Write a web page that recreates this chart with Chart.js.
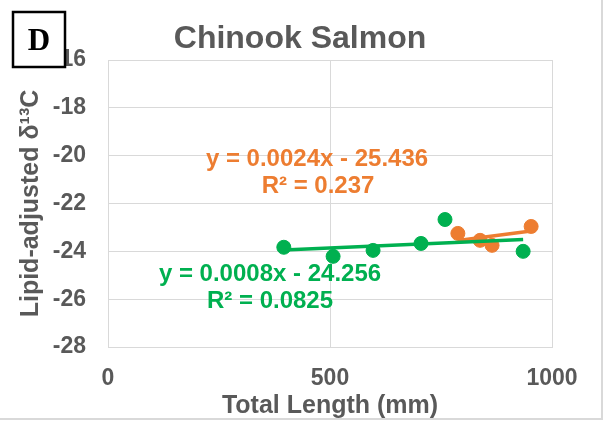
<!DOCTYPE html>
<html>
<head>
<meta charset="utf-8">
<script src="https://cdn.jsdelivr.net/npm/chart.js@4/dist/chart.umd.min.js"></script>
<style>
  html, body { margin: 0; padding: 0; background: #fff; }
  #wrap { width: 605px; height: 423px; position: relative; }
</style>
</head>
<body>
<div id="wrap"><canvas id="salmonChart" width="605" height="423"></canvas></div>
<script>
// values
const lengthGreen = [396, 507, 597, 705, 759, 935];
const d13cGreen = [-23.83, -24.21, -23.96, -23.67, -22.67, -24.0];
const lengthOrange = [788, 838, 865, 953];
const d13cOrange = [-23.25, -23.54, -23.75, -22.96];

// trendline ends (as drawn)
const trendGreenX = [396, 935];
const trendGreenY = [-23.94, -23.51];
const trendOrangeX = [788, 953];
const trendOrangeY = [-23.55, -23.15];

const xTicks = [0, 500, 1000];
const yTicks = [-28, -26, -24, -22, -20, -18, -16];

const eqGreen = ['y = 0.0008x - 24.256', 'R\u00B2 = 0.0825'];
const eqOrange = ['y = 0.0024x - 25.436', 'R\u00B2 = 0.237'];

const green = '#00B050';
const orange = '#ED7D31';
const grey = '#595959';
const gridGrey = '#d9d9d9';
const font = '"Liberation Sans", Arial, sans-serif';

function pairs(xs, ys) {
    return xs.map((x, i) => ({ x: x, y: ys[i] }));
}

// title, panel letter, equations and the outer frame
const extras = {
    id: 'extras',
    afterDraw(chart) {
        const ctx = chart.ctx;
        ctx.save();
        ctx.fillStyle = grey;
        ctx.font = `bold 32px ${font}`;
        ctx.textAlign = 'center';
        ctx.textBaseline = 'middle';
        ctx.fillText('Chinook Salmon', 300, 39);

        ctx.font = `bold 24px ${font}`;
        ctx.fillStyle = orange;
        ctx.fillText(eqOrange[0], 317, 159);
        ctx.fillText(eqOrange[1], 318, 186);
        ctx.fillStyle = green;
        ctx.fillText(eqGreen[0], 270, 274);
        ctx.fillText(eqGreen[1], 270, 301);

        // D box
        ctx.fillStyle = '#fff';
        ctx.fillRect(13, 12, 52, 55);
        ctx.strokeStyle = '#000';
        ctx.lineWidth = 2.5;
        ctx.strokeRect(13, 12, 52, 55);
        ctx.fillStyle = '#000';
        ctx.font = 'bold 31px "Liberation Serif", "Times New Roman", serif';
        ctx.fillText('D', 39, 42);

        // frame
        ctx.strokeStyle = gridGrey;
        ctx.lineWidth = 2;
        ctx.beginPath();
        ctx.moveTo(0, 419);
        ctx.lineTo(602, 419);
        ctx.lineTo(602, 0);
        ctx.stroke();
        ctx.restore();
    }
};

var ctx = document.getElementById('salmonChart').getContext('2d');
var chart = new Chart(ctx, {
    type: 'scatter',
    data: {
        datasets: [{
            label: 'Green trend',
            data: pairs(trendGreenX, trendGreenY),
            showLine: true,
            borderColor: green,
            borderWidth: 3.5,
            pointRadius: 0,
        },
        {
            label: 'Orange trend',
            data: pairs(trendOrangeX, trendOrangeY),
            showLine: true,
            borderColor: orange,
            borderWidth: 3.5,
            pointRadius: 0,
        },
        {
            label: 'Orange',
            data: pairs(lengthOrange, d13cOrange),
            backgroundColor: orange,
            borderColor: orange,
            pointRadius: 7,
            borderWidth: 1,
        },
        {
            label: 'Green',
            data: pairs(lengthGreen, d13cGreen),
            backgroundColor: green,
            borderColor: green,
            pointRadius: 7,
            borderWidth: 1,
        }]
    },
    options: {
        responsive: false,
        animation: false,
        events: [],
        layout: { padding: { top: 60, right: 53, bottom: 0, left: 0 } },
        plugins: {
            legend: { display: false },
            title: { display: false },
            tooltip: { enabled: false }
        },
        scales: {
            x: {
                type: 'linear',
                min: 0,
                max: 1000,
                afterBuildTicks: s => { s.ticks = xTicks.map(v => ({ value: v })); },
                afterFit: s => { s.height = 76; },
                grid: { color: gridGrey, lineWidth: 1, drawTicks: false },
                border: { color: gridGrey, width: 1 },
                ticks: {
                    color: grey,
                    padding: 18,
                    maxRotation: 0,
                    callback: v => String(v),
                    font: { family: font, size: 23, weight: 'bold' }
                },
                title: {
                    display: true,
                    text: 'Total Length (mm)',
                    color: grey,
                    padding: { top: 0, bottom: 2 },
                    font: { family: font, size: 25, weight: 'bold' }
                }
            },
            y: {
                type: 'linear',
                min: -28,
                max: -16,
                afterBuildTicks: s => { s.ticks = yTicks.map(v => ({ value: v })); },
                afterFit: s => { s.width = 108; },
                grid: { color: gridGrey, lineWidth: 1, drawTicks: false },
                border: { color: gridGrey, width: 1 },
                ticks: {
                    color: grey,
                    padding: 22,
                    callback: v => String(v),
                    font: { family: font, size: 23, weight: 'bold' }
                },
                title: {
                    display: true,
                    text: 'Lipid-adjusted \u03B4\u00B9\u00B3C',
                    color: grey,
                    padding: { top: 16, bottom: 0 },
                    font: { family: font, size: 25, weight: 'bold' }
                }
            }
        }
    },
    plugins: [extras]
});
</script>
</body>
</html>
